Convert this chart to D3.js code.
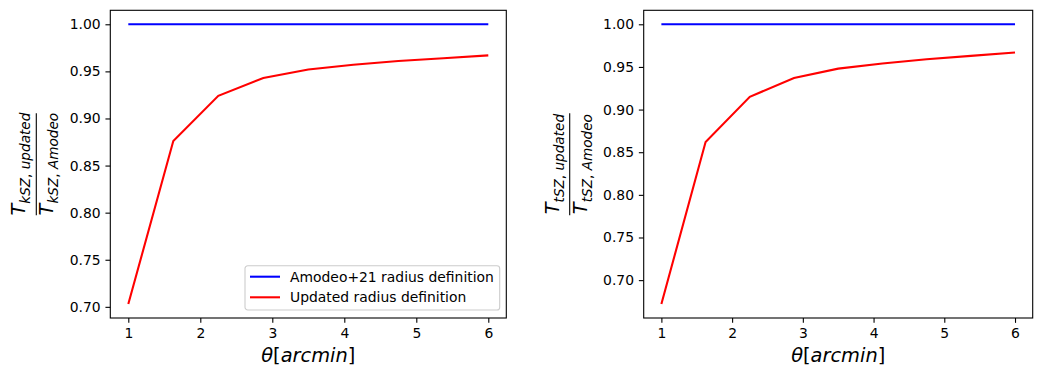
<!DOCTYPE html>
<html>
<head>
<meta charset="utf-8">
<script src="https://cdn.jsdelivr.net/npm/d3@7"></script>
<style>
  body { margin: 0; background: #fff; }
  svg text { font-family: "DejaVu Sans", sans-serif; }
  .axes path, .axes line { stroke: #000; stroke-width: 1.1px; }
  .axes text { font-size: 13.9px; fill: #000; }
</style>
</head>
<body>
<div id="chart"></div>
<script>
// theta grid, arcmin
var theta = [1, 1.625, 2.25, 2.875, 3.5, 4.125, 4.75, 5.375, 6];
// ratio for the Amodeo+21 definition (reference, always 1)
var amodeoRatio = [1, 1, 1, 1, 1, 1, 1, 1, 1];
// updated radius definition
var updatedKsz = [0.703, 0.876, 0.924, 0.943, 0.952, 0.957, 0.961, 0.964, 0.967];
var updatedTsz = [0.672, 0.862, 0.915, 0.937, 0.948, 0.954, 0.959, 0.963, 0.967];
var seriesNames = ["Amodeo+21 radius definition", "Updated radius definition"];
var seriesColors = ["#0000ff", "#ff0000"];
var xTicks = [1, 2, 3, 4, 5, 6];
var yTicks = [0.70, 0.75, 0.80, 0.85, 0.90, 0.95, 1.00];
var panelSubs = ["kSZ", "tSZ"];

var svg = d3.select("#chart").append("svg")
    .attr("width", 1050)
    .attr("height", 378);

// axes boxes (left, top, width, height)
var panels = [
    {left: 110.3, top: 10.3, width: 396, height: 307.7, updated: updatedKsz, sub: panelSubs[0], legend: true},
    {left: 643.7, top: 10.3, width: 389, height: 307.7, updated: updatedTsz, sub: panelSubs[1], legend: false}
];

var tick = 4.86;

panels.forEach(function(p) {
    var g = svg.append("g")
        .attr("transform", "translate(" + p.left + "," + p.top + ")");

    // matplotlib-style 5% margins
    var xr = d3.extent(theta);
    var xpad = (xr[1] - xr[0]) * 0.05;
    var x = d3.scaleLinear().domain([xr[0] - xpad, xr[1] + xpad]).range([0, p.width]);

    var yr = d3.extent(p.updated.concat(amodeoRatio));
    var ypad = (yr[1] - yr[0]) * 0.05;
    var y = d3.scaleLinear().domain([yr[0] - ypad, yr[1] + ypad]).range([p.height, 0]);

    var ticksY = yTicks.filter(function(v) { return v >= y.domain()[0] && v <= y.domain()[1]; });

    var series = [amodeoRatio, p.updated];
    var line = d3.line()
        .x(function(d, i) { return x(theta[i]); })
        .y(function(d) { return y(d); });

    g.selectAll("path.series")
        .data(series)
        .enter()
        .append("path")
        .attr("class", "series")
        .attr("fill", "none")
        .attr("stroke", function(d, i) { return seriesColors[i]; })
        .attr("stroke-width", 2.08)
        .attr("d", line);

    g.append("g")
        .attr("class", "axes")
        .attr("transform", "translate(0," + p.height + ")")
        .call(d3.axisBottom(x).tickValues(xTicks).tickSize(tick).tickPadding(tick).tickSizeOuter(0).tickFormat(d3.format("d")))
        .call(function(s) { s.select(".domain").remove(); });

    g.append("g")
        .attr("class", "axes")
        .call(d3.axisLeft(y).tickValues(ticksY).tickSize(tick).tickPadding(tick).tickSizeOuter(0).tickFormat(d3.format(".2f")))
        .call(function(s) { s.select(".domain").remove(); });

    // frame
    g.append("rect")
        .attr("width", p.width)
        .attr("height", p.height)
        .attr("fill", "none")
        .attr("stroke", "#000")
        .attr("stroke-width", 1.1);

    // x label
    var xl = g.append("text")
        .attr("x", p.width / 2)
        .attr("y", p.height + 44)
        .attr("text-anchor", "middle")
        .style("font-size", "19.4px");
    xl.append("tspan").style("font-style", "italic").text("θ");
    xl.append("tspan").text("[");
    xl.append("tspan").style("font-style", "italic").text("arcmin");
    xl.append("tspan").text("]");

    // y label: fraction T_{sub,updated} / T_{sub,Amodeo}
    var yl = g.append("g")
        .attr("transform", "translate(-74," + (p.height / 2) + ")rotate(-90)");
    yl.append("line")
        .attr("x1", -51).attr("x2", 51)
        .attr("y1", 0).attr("y2", 0)
        .attr("stroke", "#000")
        .attr("stroke-width", 1.1);

    function frac(ty, subName, yy) {
        var t = yl.append("text")
            .attr("x", 0)
            .attr("y", yy)
            .attr("text-anchor", "middle")
            .style("font-size", "19.4px");
        t.append("tspan").style("font-style", "italic").text("T");
        var s = t.append("tspan")
            .attr("dy", 5)
            .style("font-size", "13.6px");
        s.append("tspan").style("font-style", "italic").text(p.sub);
        s.append("tspan").text(", ");
        s.append("tspan").style("font-style", "italic").text(subName);
    }
    frac(0, "updated", -11);
    frac(0, "Amodeo", 17);

    if (p.legend) {
        var lx = 245 - p.left, ly = 265.7 - p.top;
        var lg = g.append("g").attr("transform", "translate(" + lx + "," + ly + ")");
        lg.append("rect")
            .attr("width", 254.7)
            .attr("height", 44.3)
            .attr("rx", 2.8)
            .attr("fill", "#fff")
            .attr("fill-opacity", 0.8)
            .attr("stroke", "#cccccc")
            .attr("stroke-width", 1.1);
        seriesNames.forEach(function(name, i) {
            var yy = 11 + i * 20.6;
            lg.append("line")
                .attr("x1", 5).attr("x2", 35)
                .attr("y1", yy).attr("y2", yy)
                .attr("stroke", seriesColors[i])
                .attr("stroke-width", 2.08);
            lg.append("text")
                .attr("x", 45)
                .attr("y", yy)
                .attr("dy", "0.35em")
                .style("font-size", "13.9px")
                .text(name);
        });
    }
});
</script>
</body>
</html>
